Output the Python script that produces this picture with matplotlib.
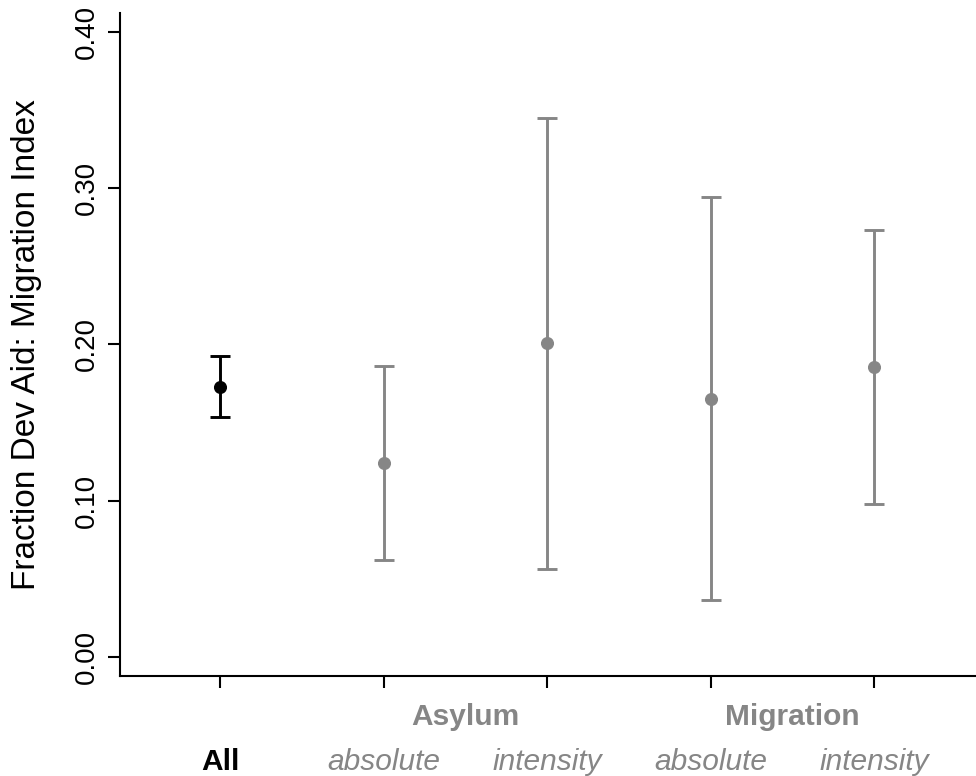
#!/usr/bin/env python3

import matplotlib
matplotlib.use("Agg")

import matplotlib.pyplot as plt
import matplotlib.transforms as mtransforms


# ---------- #
# -- DATA -- #
# ---------- #

positions = [1, 2, 3, 4, 5]
estimates = [0.1727, 0.124, 0.2006, 0.1651, 0.1853]
ci_low    = [0.1534, 0.062, 0.0564, 0.0362, 0.0977]
ci_high   = [0.1923, 0.186, 0.3450, 0.2939, 0.2728]

groupLabels    = ["Asylum", "Migration"]
groupPositions = [2.5, 4.5]
subLabels      = ["All", "absolute", "intensity", "absolute", "intensity"]

yTicks      = [0.0, 0.1, 0.2, 0.3, 0.4]
yTickLabels = ["0.00", "0.10", "0.20", "0.30", "0.40"]
yLabel      = "Fraction Dev Aid: Migration Index"


# ------------ #
# -- STYLES -- #
# ------------ #

GRAY  = "#868686"
BLACK = "#000000"
FS    = 21.5

plt.rcParams["font.family"] = ["Liberation Sans", "DejaVu Sans"]


# ---------- #
# -- PLOT -- #
# ---------- #

fig = plt.figure(figsize = (9.76, 7.76), dpi = 100)
ax  = fig.add_axes([120 / 976, 1 - 676 / 776, 1 - 120 / 976, (676 - 13) / 776])

for i, x in enumerate(positions):
    color = BLACK if i == 0 else GRAY
    ax.errorbar(
        x, estimates[i],
        yerr = [[estimates[i] - ci_low[i]], [ci_high[i] - estimates[i]]],
        fmt = "o",
        color = color,
        ecolor = color,
        elinewidth = 2.1,
        capsize = 7.5,
        capthick = 2.1,
        markersize = 8.4
    )

ax.set_xlim(0.388, 5.624)
ax.set_ylim(-0.01215, 0.4119)

# L shaped box
ax.spines["top"].set_visible(False)
ax.spines["right"].set_visible(False)
for side in ("left", "bottom"):
    ax.spines[side].set_linewidth(1.5)

ax.set_yticks(yTicks)
ax.set_yticklabels(yTickLabels, rotation = 90, va = "center", fontsize = 20)
ax.set_xticks(positions)
ax.set_xticklabels([])
ax.tick_params(axis = "both", direction = "out", length = 8.6, width = 1.5)
ax.tick_params(axis = "y", pad = 6)

# y label, baseline placed by hand
fig.text(35 / 976, 1 - 344.5 / 776, yLabel, rotation = 90,
         rotation_mode = "anchor", ha = "center", va = "baseline",
         fontsize = 24)

# two rows of labels under the axis
trans = mtransforms.blended_transform_factory(ax.transData, fig.transFigure)

for x, label in zip(groupPositions, groupLabels):
    ax.text(x, 1 - 725 / 776, label, transform = trans, ha = "center",
            va = "baseline", fontsize = FS, fontweight = "bold", color = GRAY)

for i, label in enumerate(subLabels):
    if i == 0:
        ax.text(positions[i], 1 - 770 / 776, label, transform = trans,
                ha = "center", va = "baseline", fontsize = FS,
                fontweight = "bold", color = BLACK)
    else:
        ax.text(positions[i], 1 - 770 / 776, label, transform = trans,
                ha = "center", va = "baseline", fontsize = FS,
                fontstyle = "italic", color = GRAY)

fig.savefig("out.png", dpi = 100)
